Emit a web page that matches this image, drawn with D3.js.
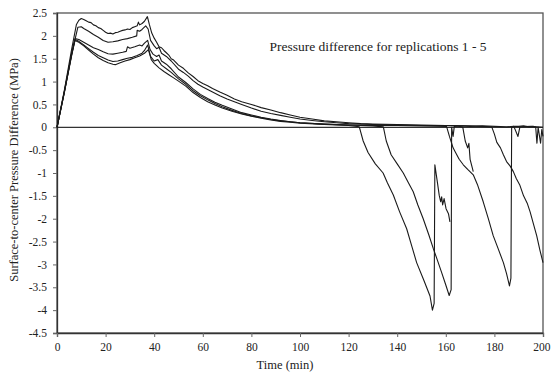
<!DOCTYPE html>
<html>
<head>
<meta charset="utf-8">
<script src="https://cdn.jsdelivr.net/npm/d3@7"></script>
<style>
  body { margin: 0; background: #fff; }
  svg text { font-family: "Liberation Serif", "DejaVu Serif", serif; }
</style>
</head>
<body>
<div id="chart"></div>
<script>
// x tick labels (min) and y tick labels (MPa)
const xTicks = [0, 20, 40, 60, 80, 100, 120, 140, 160, 180, 200];
const yTicks = [2.5, 2, 1.5, 1, 0.5, 0, -0.5, -1, -1.5, -2, -2.5, -3, -3.5, -4, -4.5];

// replications, [time (min), pressure difference (MPa)]
const rep1 = [[0,0],[3,0.8],[6,1.7],[8,2.25],[9,2.34],[10,2.38],[11,2.36],[12,2.33],[13,2.3],[14,2.29],[15,2.24],[16,2.22],[17,2.18],[18,2.16],[19,2.12],[20,2.08],[21,2.05],[22,2.06],[23,2.04],[24,2.07],[25,2.08],[26,2.1],[27,2.12],[28,2.13],[29,2.15],[30,2.14],[31,2.18],[32,2.2],[33,2.22],[33.5,2.3],[34,2.24],[35,2.27],[36,2.32],[37.2,2.42],[38,2.25],[39,2.06],[40,1.95],[41,1.86],[42,1.76],[43,1.74],[44,1.68],[45,1.63],[46,1.58],[47,1.5],[48,1.47],[50,1.36],[52,1.29],[54,1.19],[56,1.11],[58,1.02],[60,0.96],[62,0.91],[64,0.85],[67,0.77],[70,0.7],[73,0.62],[76,0.56],[80,0.5],[84,0.43],[88,0.38],[92,0.32],[96,0.27],[100,0.22],[105,0.18],[110,0.14],[115,0.12],[120,0.1],[125,0.08],[130,0.07],[140,0.06],[150,0.05],[160,0.04],[165,0.03],[167,0],[168,-0.3],[169,-0.45],[169.5,-0.35],[170,-0.7],[171.3,-0.97]];
const rep2 = [[0,0],[3,0.75],[6,1.6],[8.6,2.19],[10,2.2],[11,2.16],[13,2.1],[15,2.03],[17,1.97],[19,1.9],[21,1.86],[23,1.87],[25,1.89],[27,1.92],[29,1.94],[31,1.97],[32.8,2.0],[33,2.12],[34,2.1],[35,2.14],[36.5,2.22],[37.5,2.15],[38.5,1.9],[40,1.78],[41,1.72],[42,1.75],[43,1.62],[45,1.55],[47,1.45],[50,1.27],[52,1.2],[54,1.12],[56,1.02],[58,0.94],[60,0.88],[63,0.8],[67,0.69],[70,0.62],[73,0.56],[76,0.5],[80,0.42],[84,0.35],[88,0.3],[92,0.26],[96,0.22],[100,0.18],[105,0.15],[110,0.12],[115,0.1],[120,0.08],[130,0.06],[140,0.05],[150,0.04],[160,0.04],[170,0.03],[178.9,0.01],[180,-0.15],[181,-0.33],[182.5,-0.45],[183.7,-0.6],[185,-0.75],[186.5,-0.85],[187.8,-0.97],[189,-1.12],[190.5,-1.27],[192,-1.5],[193.5,-1.66],[194.7,-1.85],[196,-2.1],[197.4,-2.37],[198.7,-2.68],[200,-2.96]];
const rep3 = [[0,0],[3,0.78],[6,1.6],[7.4,1.94],[9,1.92],[11,1.86],[13,1.8],[15,1.74],[17,1.7],[19,1.65],[21,1.61],[23,1.6],[25,1.62],[27,1.64],[28.5,1.66],[29,1.76],[30,1.73],[32,1.76],[34,1.8],[35,1.78],[36,1.84],[37.3,1.9],[38.3,1.7],[39.5,1.6],[41,1.55],[42,1.58],[43,1.45],[45,1.38],[47,1.28],[50,1.1],[53,0.98],[56,0.84],[59,0.72],[62,0.63],[65,0.55],[68,0.48],[72,0.4],[76,0.32],[80,0.27],[84,0.22],[88,0.18],[92,0.15],[96,0.12],[100,0.1],[110,0.07],[120,0.05],[130,0.04],[140,0.04],[150,0.03],[160.3,0.02],[161.5,-0.2],[163,-0.45],[163.8,-0.53],[165.5,-0.7],[167.2,-0.82],[169,-0.92],[171.3,-1.04],[173,-1.25],[175.4,-1.63],[177.5,-2.0],[179.5,-2.37],[181.5,-2.65],[183.7,-2.96],[185,-3.2],[186.2,-3.47],[186.8,-3.3],[187.1,0.0],[188,0.02],[190,0.02],[192,0.03],[194,0.01],[196,0.02],[197,0.0],[197.5,-0.35],[198,0.0],[199,-0.35],[199.5,-0.05],[200,-0.2]];
const rep4 = [[0,0],[3,0.77],[6,1.58],[7.4,1.92],[9,1.88],[11,1.8],[13,1.72],[15,1.64],[17,1.57],[19,1.52],[21,1.47],[23,1.44],[25,1.45],[27,1.48],[29,1.51],[31,1.53],[33,1.57],[35,1.62],[36,1.68],[37.3,1.8],[38.5,1.55],[40,1.45],[41.5,1.48],[43,1.36],[45,1.28],[47,1.2],[50,1.06],[53,0.94],[56,0.8],[59,0.69],[62,0.6],[65,0.52],[68,0.45],[72,0.37],[76,0.3],[80,0.25],[84,0.21],[88,0.17],[92,0.14],[96,0.12],[100,0.1],[110,0.07],[120,0.05],[130,0.03],[134.3,0.01],[135.5,-0.3],[137.5,-0.6],[140,-0.8],[142.5,-1.0],[144.5,-1.2],[146.6,-1.41],[148.5,-1.7],[150.7,-2.0],[153,-2.35],[154.9,-2.66],[156.5,-2.9],[158.3,-3.18],[160,-3.45],[161.4,-3.68],[162.2,-3.55],[162.4,0.0],[163,-0.2],[163.5,0.02],[166,0.03],[170,0.02],[175,0.03],[180,0.02],[185,0.01],[188,0.02],[189.7,-0.2],[190.5,0.01],[195,0.02],[200,0.0]];
const rep5 = [[0,0],[3,0.76],[6,1.56],[7.4,1.9],[9,1.86],[11,1.78],[13,1.69],[15,1.6],[17,1.52],[19,1.46],[21,1.41],[23,1.38],[24,1.37],[26,1.41],[28,1.45],[30,1.48],[32,1.52],[34,1.56],[36,1.62],[37.6,1.7],[38.8,1.48],[40,1.4],[42,1.3],[44,1.22],[46,1.15],[48,1.08],[50,1.01],[53,0.9],[56,0.76],[59,0.65],[62,0.56],[65,0.49],[68,0.42],[72,0.35],[76,0.29],[80,0.24],[84,0.2],[88,0.16],[92,0.13],[96,0.11],[100,0.09],[110,0.06],[120,0.04],[124.4,0.01],[126,-0.3],[128,-0.55],[131,-0.8],[134.2,-1.0],[136,-1.22],[138.4,-1.48],[141,-1.85],[143.9,-2.22],[146,-2.6],[148,-2.96],[151,-3.35],[153.5,-3.69],[154.5,-4.0],[155.2,-3.85],[155.5,-0.82],[155.9,-0.97],[156.5,-1.19],[157.3,-1.49],[157.9,-1.63],[158.3,-1.52],[158.7,-1.7],[159.3,-1.56],[160.1,-1.78],[161.1,-1.89],[161.7,-2.07]];

const width = 551;
const height = 382;
const margin = { top: 13, right: 8, bottom: 49, left: 57 };
const serif = "'Liberation Serif', 'DejaVu Serif', serif";

const svg = d3.select("#chart")
    .append("svg")
    .attr("width", width)
    .attr("height", height);

const x = d3.scaleLinear()
    .domain([0, 200])
    .range([margin.left, width - margin.right]);

const y = d3.scaleLinear()
    .domain([-4.5, 2.5])
    .range([height - margin.bottom, margin.top]);

// frame (top and right sides)
svg.append("rect")
    .attr("x", x(0))
    .attr("y", y(2.5))
    .attr("width", x(200) - x(0))
    .attr("height", y(-4.5) - y(2.5))
    .attr("fill", "none")
    .attr("stroke", "#555")
    .attr("stroke-width", 1.3);

// zero line
svg.append("line")
    .attr("x1", x(0)).attr("x2", x(200))
    .attr("y1", y(0)).attr("y2", y(0))
    .attr("stroke", "#333")
    .attr("stroke-width", 1.3);

// axes
const yAxis = svg.append("g")
    .attr("transform", `translate(${x(0)},0)`)
    .call(d3.axisLeft(y).tickValues(yTicks).tickFormat(d => String(d)).tickSize(4).tickPadding(6));

const xAxis = svg.append("g")
    .attr("transform", `translate(0,${y(-4.5)})`)
    .call(d3.axisBottom(x).tickValues(xTicks).tickFormat(d => String(d)).tickSize(4).tickPadding(6));

[xAxis, yAxis].forEach(g => {
    g.attr("font-family", serif).attr("font-size", 11.5);
    g.select(".domain").attr("stroke", "#333").attr("stroke-width", 1.3);
    g.selectAll(".tick line").attr("stroke", "#666");
    g.selectAll("text").attr("fill", "#222");
});

// last x label sits against the right edge
xAxis.selectAll(".tick text")
    .filter(d => d === 200)
    .attr("text-anchor", "end")
    .attr("x", 7);

// series
const line = d3.line()
    .x(d => x(d[0]))
    .y(d => y(d[1]));

[rep1, rep2, rep3, rep4, rep5].forEach(rep => {
    svg.append("path")
        .datum(rep)
        .attr("d", line)
        .attr("fill", "none")
        .attr("stroke", "#1a1a1a")
        .attr("stroke-width", 1.1)
        .attr("stroke-linejoin", "round");
});

// titles
svg.append("text")
    .attr("x", 378)
    .attr("y", 51)
    .attr("text-anchor", "middle")
    .attr("fill", "#222")
    .attr("font-family", serif)
    .attr("font-size", 13.5)
    .text("Pressure difference for replications 1 - 5");

svg.append("text")
    .attr("x", 285)
    .attr("y", 369)
    .attr("text-anchor", "middle")
    .attr("fill", "#222")
    .attr("font-family", serif)
    .attr("font-size", 12.5)
    .text("Time (min)");

svg.append("text")
    .attr("transform", `translate(18,170) rotate(-90)`)
    .attr("text-anchor", "middle")
    .attr("fill", "#222")
    .attr("font-family", serif)
    .attr("font-size", 12.5)
    .text("Surface-to-center Pressure Difference (MPa)");
</script>
</body>
</html>
